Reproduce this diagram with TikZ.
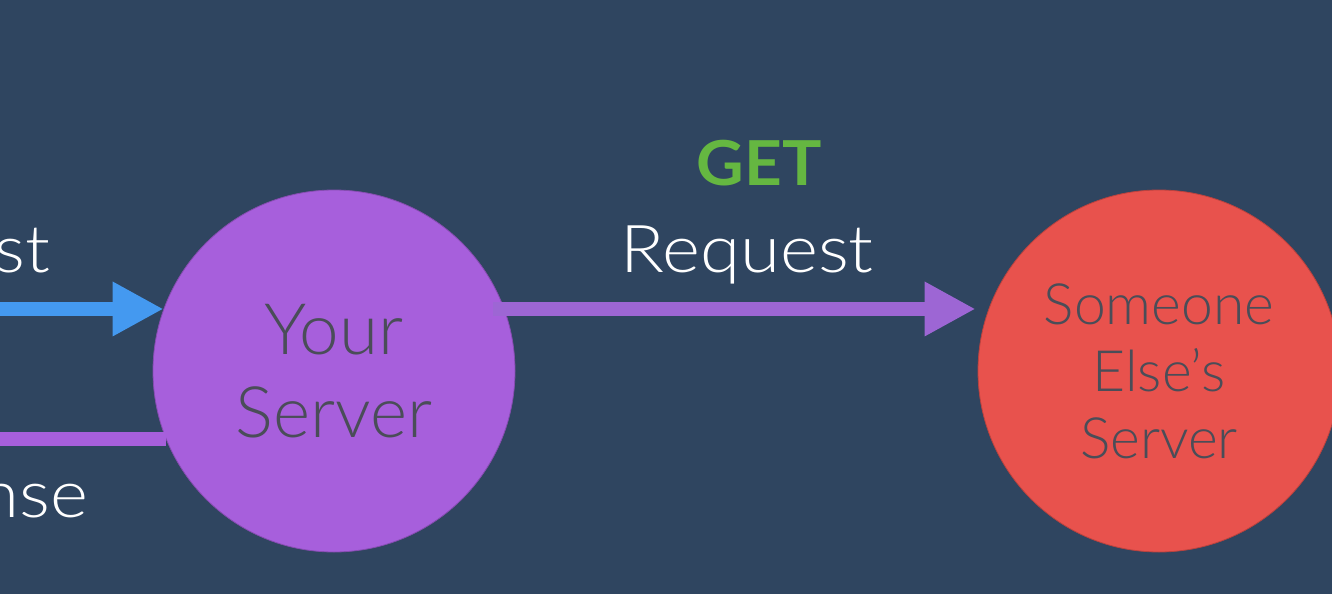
\documentclass[tikz,border=0pt]{standalone}
\usepackage{fontspec}
\setmainfont{Lato Light}
\newfontfamily\lblfont{Lato Light}[FakeStretch=1.1]
\newfontfamily\boldfont{Lato Bold}[FakeStretch=1.06]
\usetikzlibrary{arrows.meta}
\definecolor{bg}{HTML}{2F4560}
\definecolor{purp}{HTML}{A75FDC}
\definecolor{purparrow}{HTML}{9D66D4}
\definecolor{redc}{HTML}{E8524D}
\definecolor{bluea}{HTML}{4499F0}
\definecolor{greenc}{HTML}{65B741}
\definecolor{darktext}{HTML}{4A4D58}
\tikzset{
  server/.style={circle, minimum size=362pt, inner sep=0pt, align=center, text=darktext},
  conn/.style={line width=14pt},
  bigtip/.style={-{Triangle[length=51pt,width=51pt]}},
  lbl/.style={text=white, inner sep=0pt, font=\lblfont\fontsize{66}{78}\selectfont}
}
\begin{document}
\begin{tikzpicture}[x=1pt,y=-1pt]
\fill[bg] (0,0) rectangle (1332,594);
\useasboundingbox (0,0) rectangle (1332,594);
\clip (0,0) rectangle (1332,594);
\node[server, fill=purp, draw=purp!80!black, line width=0.8pt, font=\fontsize{71}{83}\selectfont] (ys) at (334,371) {Your\\Server};
\node[server, fill=redc, draw=redc!80!black, line width=0.8pt, font=\fontsize{57}{67}\selectfont] (se) at (1159,371) {Someone\\Else’s\\Server};
\coordinate (inL) at (-5,309);
\coordinate (outL) at (-5,440);
\draw[conn, bluea, bigtip] (inL |- ys.160) -- (ys.160);
\draw[conn, purp] (ys.202) -- (ys.202 -| outL);
\draw[conn, purparrow, bigtip, shorten <=-11pt, shorten >=13pt] (ys.20) -- (ys.20 -| se.160);
\node[lbl, anchor=base east] (lreq) at (50,272) {Request};
\node[lbl, anchor=base east] (lresp) at (88,517) {Response};
\node[lbl, anchor=base] (rreq) at (747,272) {Request};
\node[inner sep=0pt, anchor=base, text=greenc, font=\boldfont\fontsize{62}{70}\selectfont] (get) at (759,185) {GET};
\end{tikzpicture}
\end{document}
